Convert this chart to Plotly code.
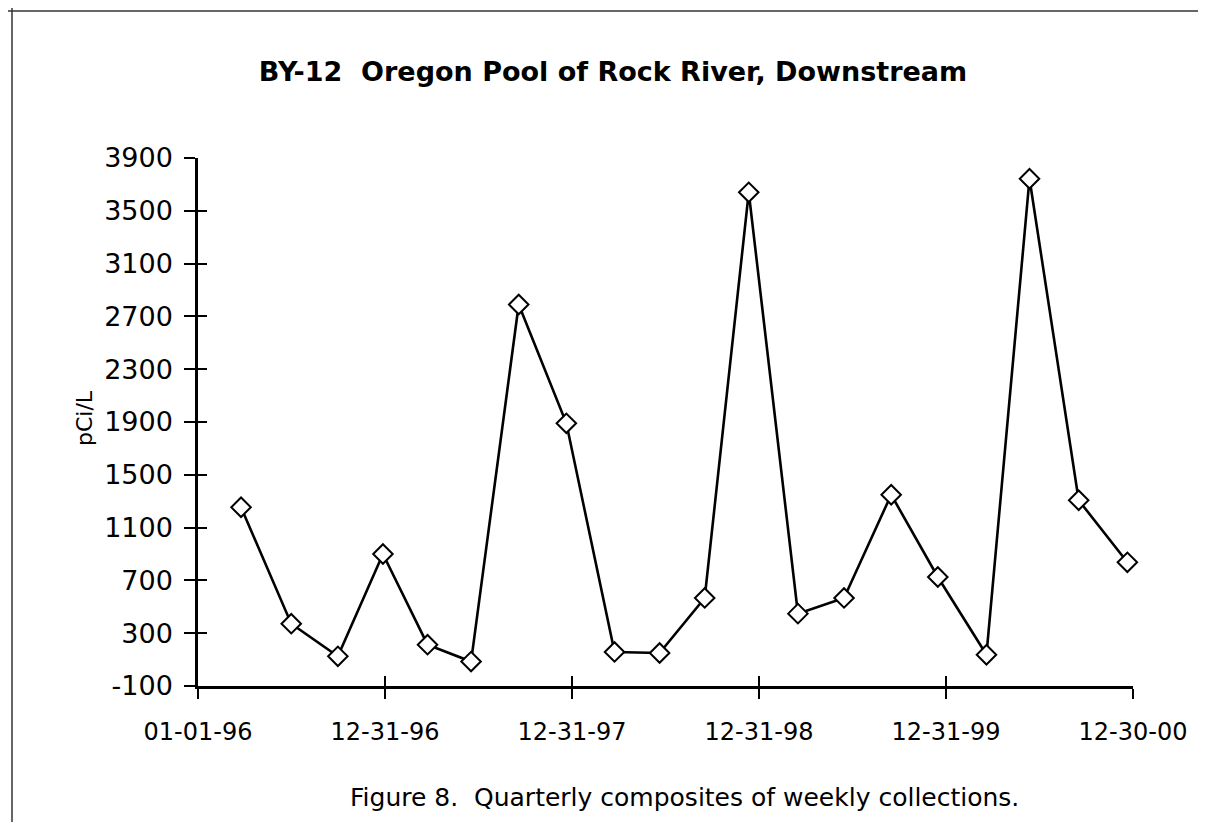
import plotly.graph_objects as go

# ---- data ----
dates = ["1996-03-25", "1996-07-01", "1996-09-30", "1996-12-27",
         "1997-03-24", "1997-06-17", "1997-09-18", "1997-12-20",
         "1998-03-24", "1998-06-20", "1998-09-16", "1998-12-11",
         "1999-03-17", "1999-06-15", "1999-09-15", "1999-12-15",
         "2000-03-19", "2000-06-11", "2000-09-15", "2000-12-19"]
values = [1254, 372, 125, 900, 213, 85, 2790, 1890, 158, 150,
          567, 3640, 448, 567, 1349, 726, 137, 3743, 1307, 837]

x_tick_vals = ["1996-01-01", "1996-12-31", "1997-12-31", "1998-12-31", "1999-12-31", "2000-12-30"]
x_tick_text = ["01-01-96", "12-31-96", "12-31-97", "12-31-98", "12-31-99", "12-30-00"]
y_tick_vals = [-100, 300, 700, 1100, 1500, 1900, 2300, 2700, 3100, 3500, 3900]
y_tick_text = ["-100", "300", "700", "1100", "1500", "1900", "2300", "2700", "3100", "3500", "3900"]

title_text = "BY-12  Oregon Pool of Rock River, Downstream"
caption_text = "Figure 8.  Quarterly composites of weekly collections."
y_title = "pCi/L"

W, H = 1206, 822
L, R, T, B = 190, 81, 150, 144
PW, PH = W - L - R, H - T - B

def px_x(p):
    return (p - L) / PW

def px_y(p):
    return (H - B - p) / PH

fig = go.Figure()
fig.add_trace(go.Scatter(
    x=dates, y=values, mode="lines+markers",
    line=dict(color="black", width=2.6),
    marker=dict(symbol="diamond", size=15, color="white",
                line=dict(color="black", width=2)),
    cliponaxis=False, showlegend=False, hoverinfo="x+y",
))
# invisible trace to carry the inner tick marks
fig.add_trace(go.Scatter(
    x=dates, y=values, mode="markers", xaxis="x2", yaxis="y2",
    marker=dict(opacity=0), showlegend=False, hoverinfo="skip",
))

xr = ["1996-01-01", "2000-12-30"]
yr = [-100, 3900]

border = dict(color="#333", width=1.5)

fig.update_layout(
    width=W, height=H,
    margin=dict(l=L, r=R, t=T, b=B),
    paper_bgcolor="white", plot_bgcolor="white",
    title=dict(text="<b>" + title_text + "</b>", x=605 / W, y=1 - 64 / H,
               xanchor="center", yanchor="middle", xref="container", yref="container",
               font=dict(family="DejaVu Sans", size=27, color="black")),
    xaxis=dict(range=xr, type="date", tickmode="array", tickvals=x_tick_vals, ticktext=x_tick_text,
               showgrid=False, zeroline=False, showline=True, linecolor="black", linewidth=2.5,
               ticks="outside", ticklen=10, tickwidth=2, tickcolor="black",
               tickfont=dict(family="DejaVu Sans", size=24, color="black"),
               ticklabelstandoff=12),
    yaxis=dict(range=yr, tickmode="array", tickvals=y_tick_vals, ticktext=y_tick_text,
               showgrid=False, zeroline=False, showline=True, linecolor="black", linewidth=2.5,
               ticks="outside", ticklen=11, tickwidth=2, tickcolor="black",
               tickfont=dict(family="DejaVu Sans", size=27, color="black"),
               ticklabelstandoff=6),
    xaxis2=dict(range=xr, type="date", overlaying="x", anchor="y2", side="bottom",
                tickmode="array", tickvals=x_tick_vals, showticklabels=False,
                showgrid=False, zeroline=False, showline=False,
                ticks="inside", ticklen=10, tickwidth=2, tickcolor="black"),
    yaxis2=dict(range=yr, overlaying="y", anchor="x2", side="left",
                tickmode="array", tickvals=y_tick_vals, showticklabels=False,
                showgrid=False, zeroline=False, showline=False,
                ticks="inside", ticklen=9, tickwidth=2, tickcolor="black"),
    annotations=[
        dict(text=caption_text, xref="paper", yref="paper", x=px_x(340), y=px_y(789),
             xanchor="left", yanchor="middle", showarrow=False,
             font=dict(family="DejaVu Sans", size=25, color="black")),
        dict(text=y_title, xref="paper", yref="paper", x=px_x(76), y=px_y(410),
             xanchor="center", yanchor="middle", showarrow=False, textangle=-90,
             font=dict(family="DejaVu Sans", size=22, color="black")),
    ],
    shapes=[
        dict(type="line", xref="paper", yref="paper", x0=px_x(0), x1=px_x(1206),
             y0=px_y(3), y1=px_y(3), line=border),
        dict(type="line", xref="paper", yref="paper", x0=px_x(4), x1=px_x(4),
             y0=px_y(0), y1=px_y(822), line=border),
        dict(type="line", xref="paper", yref="paper", x0=px_x(0), x1=px_x(1206),
             y0=px_y(819), y1=px_y(819), line=border),
    ],
)

fig.write_html("out.html")
